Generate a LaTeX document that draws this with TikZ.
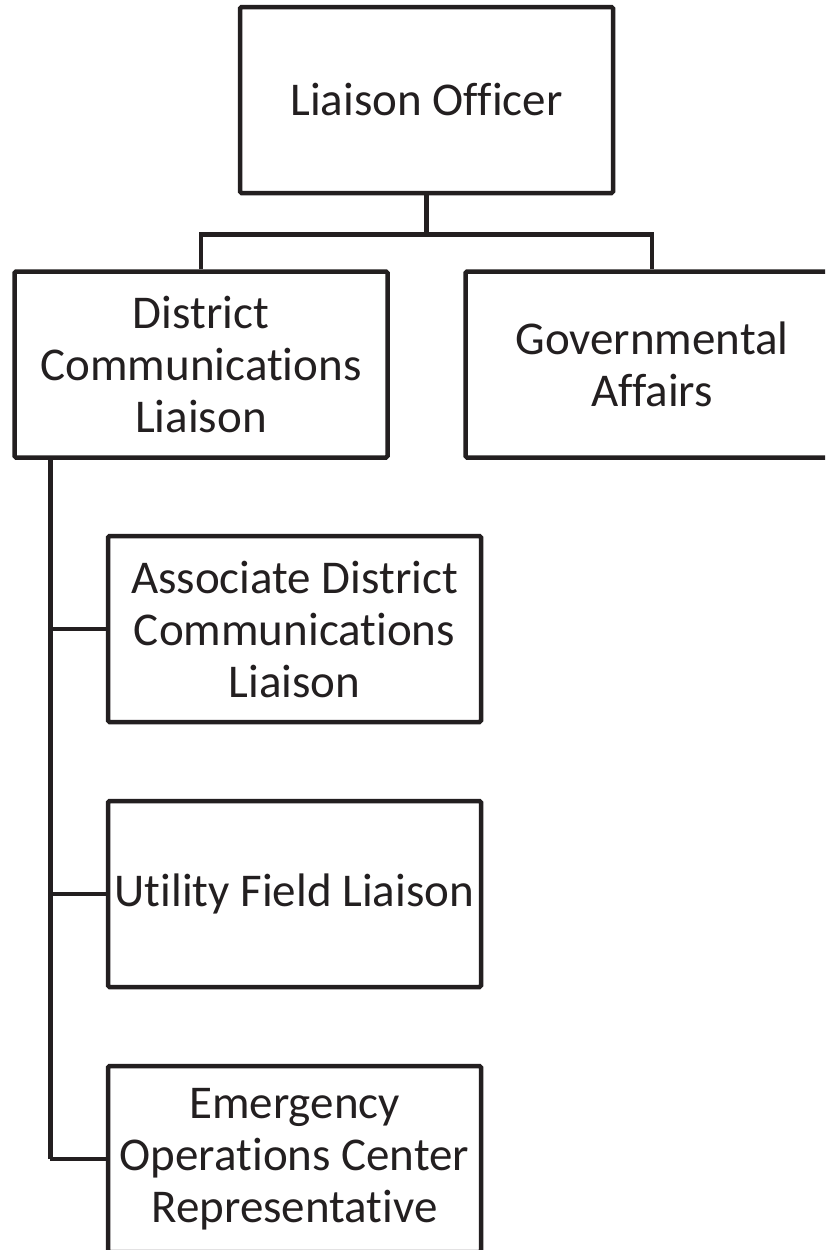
\documentclass[tikz,border=0pt]{standalone}
\usepackage{fontspec}
\setmainfont{Carlito}[Ligatures=NoCommon]
\definecolor{ink}{RGB}{35,31,32}
\begin{document}
\begin{tikzpicture}[x=1pt,y=-1pt,
  orgbox/.style={draw=ink, line width=4.5pt, rectangle, rounded corners=1.5pt,
    minimum width=373pt, minimum height=186pt, inner sep=0pt,
    align=center, text=ink, font=\fontsize{47}{52}\selectfont},
  link/.style={draw=ink, line width=4.5pt, line join=miter}]
  \clip (0,0) rectangle (825,1250);
  \fill[white] (0,0) rectangle (825,1250);

  % top level
  \node[orgbox] (officer) at (426.5,100) {Liaison Officer};

  % second level
  \node[orgbox] (district) at (201,364.5) {District\\Communications\\Liaison};
  \node[orgbox] (govt) at (652,364.5) {Governmental\\Affairs};

  % staff under the district liaison
  \node[orgbox] (assoc) at (294.5,629) {Associate District\\Communications\\Liaison};
  \node[orgbox] (utility) at (294.5,894) {Utility Field Liaison};
  \node[orgbox] (eoc) at (294.5,1159) {Emergency\\Operations Center\\Representative};

  % connectors from the officer
  \coordinate (bus) at ([yshift=-39pt]officer.south);
  \draw[link] (officer.south) -- (bus);
  \draw[link] (district.north) |- (bus) -| (govt.north);

  % stem running down from the district liaison
  \coordinate (stem) at ([xshift=38pt]district.south west);
  \draw[link] (stem) -- (stem |- eoc.west);
  \draw[link] (stem |- assoc.west) -- (assoc.west);
  \draw[link] (stem |- utility.west) -- (utility.west);
  \draw[link] (stem |- eoc.west) -- (eoc.west);
\end{tikzpicture}
\end{document}
